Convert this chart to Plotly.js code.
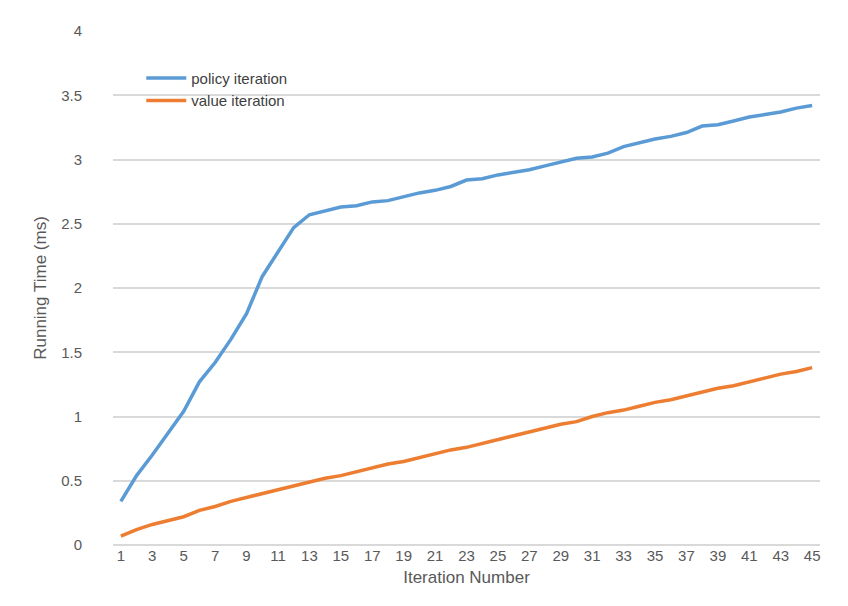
<!DOCTYPE html>
<html><head><meta charset="utf-8">
<script src="https://cdn.plot.ly/plotly-3.0.1.min.js"></script>
<style>body{margin:0;background:#fff}#c{width:848px;height:606px}</style>
</head><body><div id="c"></div>
<script>
const iterations = Array.from({length:45},(_, i)=>i+1);
const policyIteration = [0.34,0.54,0.70,0.87,1.04,1.27,1.42,1.60,1.80,2.09,2.28,2.47,2.57,2.60,2.63,2.64,2.67,2.68,2.71,2.74,2.76,2.79,2.84,2.85,2.88,2.90,2.92,2.95,2.98,3.01,3.02,3.05,3.10,3.13,3.16,3.18,3.21,3.26,3.27,3.30,3.33,3.35,3.37,3.40,3.42];
const valueIteration = [0.07,0.12,0.16,0.19,0.22,0.27,0.30,0.34,0.37,0.40,0.43,0.46,0.49,0.52,0.54,0.57,0.60,0.63,0.65,0.68,0.71,0.74,0.76,0.79,0.82,0.85,0.88,0.91,0.94,0.96,1.00,1.03,1.05,1.08,1.11,1.13,1.16,1.19,1.22,1.24,1.27,1.30,1.33,1.35,1.38];
const tickVals = iterations.filter(v=>v%2===1);
const font = {family:'"Liberation Sans Narrow", "Arial Narrow", sans-serif', size:15, color:'#595959'};
Plotly.newPlot('c',[
 {x:iterations,y:policyIteration,mode:'lines',name:'policy iteration',line:{color:'#5B9BD5',width:3.5}},
 {x:iterations,y:valueIteration,mode:'lines',name:'value iteration',line:{color:'#ED7D31',width:3.5}}
],{
 width:848,height:606,margin:{l:113,r:28,t:31,b:61},
 paper_bgcolor:'#fff',plot_bgcolor:'#fff',font:font,
 xaxis:{range:[0.5,45.5],tickvals:tickVals,showgrid:false,zeroline:false,showline:false,ticks:'',
   title:{text:'Iteration Number',font:{size:17,color:'#595959'},standoff:8}},
 yaxis:{range:[0,4],dtick:0.5,gridcolor:'#d9d9d9',gridwidth:1.5,zeroline:true,zerolinecolor:'#d9d9d9',zerolinewidth:1.5,ticks:'',
   ticklabelstandoff:30,
   title:{text:'Running Time (ms)',font:{size:17,color:'#595959'},standoff:10}},
 legend:{x:0.04,y:0.94,xanchor:'left',yanchor:'top',bgcolor:'rgba(0,0,0,0)',font:{size:15,color:'#404040'},tracegroupgap:10,itemwidth:40}
},{displayModeBar:false});
</script></body></html>
